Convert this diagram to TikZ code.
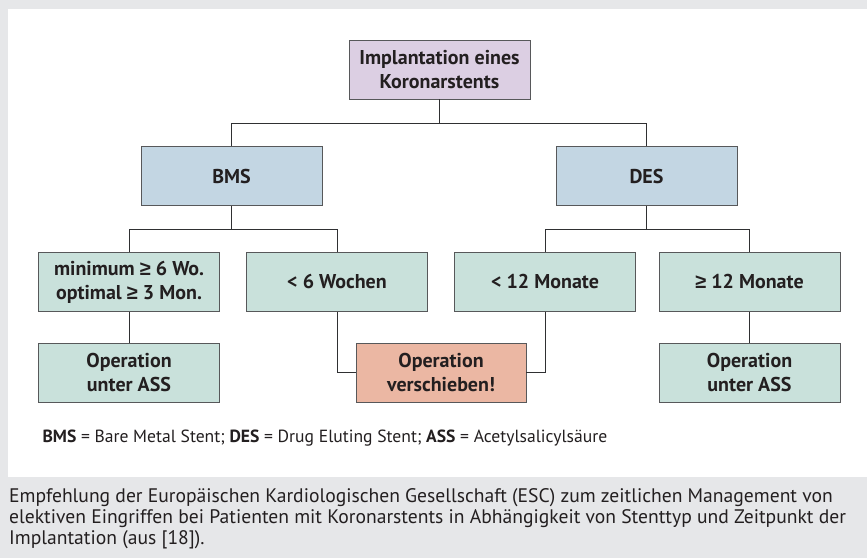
\documentclass[tikz,border=0pt]{standalone}
\usepackage{fontspec}
\setmainfont{PT Sans}
\newfontfamily\zeichen{Liberation Sans}
\usepackage{tikz}
\usetikzlibrary{positioning}

\definecolor{grau}{HTML}{E6E7E9}
\definecolor{lila}{HTML}{DCCFE3}
\definecolor{blau}{HTML}{C3D6E3}
\definecolor{gruen}{HTML}{C9E1DB}
\definecolor{rot}{HTML}{EBB7A3}
\definecolor{rahmen}{HTML}{57585A}
\definecolor{linie}{HTML}{2F3032}
\definecolor{schrift}{HTML}{231F20}

\newcommand{\mindest}{{\zeichen ≥}}

\begin{document}
\begin{tikzpicture}[x=1pt,y=-1pt,
    stufe/.style={draw=rahmen,line width=0.7pt,minimum width=181pt,minimum height=59pt,inner sep=2pt,align=center,text=schrift,font=\fontsize{20}{24}\selectfont\bfseries},
    start/.style={stufe,fill=lila},
    stent/.style={stufe,fill=blau},
    zeit/.style={stufe,fill=gruen},
    stopp/.style={stufe,fill=rot,minimum width=170pt},
    kante/.style={draw=linie,line width=0.7pt}]
			% Hintergrund
			\fill[grau] (0,0) rectangle (867,558);
			\fill[white] (8,9) rectangle (867,477);
			\useasboundingbox (0,0) rectangle (867,558);
			% Define nodes
			\node[start] (impl) at (439.5,69.5) {Implantation eines\\Koronarstents};
			\node[stent, below=47pt of impl, xshift=-208pt] (bms) {BMS};
			\node[stent, below=47pt of impl, xshift=207pt] (des) {DES};
			\node[zeit, below=46pt of bms, xshift=-102.5pt] (min) {minimum \mindest{} 6 Wo.\\optimal \mindest{} 3 Mon.};
			\node[zeit, below=46pt of bms, xshift=105.5pt] (kurz) {< 6 Wochen};
			\node[zeit, below=46pt of des, xshift=-101.5pt] (lang) {< 12 Monate};
			\node[zeit, below=46pt of des, xshift=103pt] (ueber) {\mindest{} 12 Monate};
			\node[zeit, below=31pt of min] (assl) {Operation\\unter ASS};
			\node[zeit, below=31pt of ueber] (assr) {Operation\\unter ASS};
			\node[stopp, below=31pt of kurz, xshift=104pt] (versch) {Operation\\verschieben!};
			%%add edge
			\draw[kante] (impl.south) -- ++(0,23.5) -| (bms.north);
			\draw[kante] (impl.south) -- ++(0,23.5) -| (des.north);
			\draw[kante] (bms.south) -- ++(0,23.5) -| (min.north);
			\draw[kante] (bms.south) -- ++(0,23.5) -| (kurz.north);
			\draw[kante] (des.south) -- ++(0,23.5) -| (lang.north);
			\draw[kante] (des.south) -- ++(0,23.5) -| (ueber.north);
			\draw[kante] (min) -- (assl);
			\draw[kante] (ueber) -- (assr);
			\draw[kante] (kurz.south) |- (versch.west);
			\draw[kante] (lang.south) |- (versch.east);
			% Legende und Text
			\node[anchor=west, text=schrift, font=\fontsize{17.6}{20}\selectfont] (legende) at (39,438)
				{\textbf{BMS} = Bare Metal Stent; \textbf{DES} = Drug Eluting Stent; \textbf{ASS} = Acetylsalicylsäure};
			\node[anchor=north west, align=left, inner sep=0pt, text=schrift, font=\fontsize{19.6}{21}\selectfont] (caption) at (9,488.5)
				{Empfehlung der Europäischen Kardiologischen Gesellschaft (ESC) zum zeitlichen Management von\\
				 elektiven Eingriffen bei Patienten mit Koronarstents in Abhängigkeit von Stenttyp und Zeitpunkt der\\
				 Implantation (aus [18]).};
\end{tikzpicture}
\end{document}
